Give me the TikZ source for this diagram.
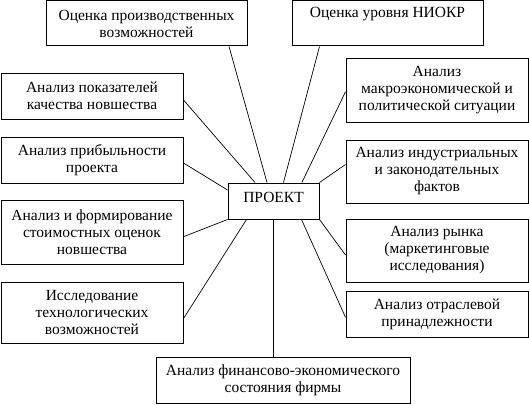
\documentclass[tikz,border=0pt]{standalone}
\usepackage{fontspec}
\setmainfont{Liberation Serif}
\usepackage{tikz}
\usetikzlibrary{positioning,calc}
\tikzset{%
  block/.style={draw=black,line width=1pt,fill=white,
    align=center,inner sep=0pt,font=\fontsize{15.5}{17}\selectfont},
  link/.style={draw=black,line width=0.7pt}
}
\begin{document}
\begin{tikzpicture}[x=1pt,y=-1pt]
  \useasboundingbox (0,0) rectangle (529,404);
  % center
  \node[block, minimum width=91pt, minimum height=36pt, text depth=8pt] (proekt) at (273.5,201) {ПРОЕКТ};
  % top row
  \node[block, minimum width=201pt, minimum height=45pt] (proizv) at (146.5,23.5) {Оценка производственных\\возможностей};
  \node[block, minimum width=191pt, minimum height=45pt] (niokr) at (387.5,23.5) {Оценка уровня НИОКР\\ \strut};
  % right column
  \node[block, minimum width=182pt, minimum height=64pt] (makro) at (437,90) {Анализ\\макроэкономической и\\политической ситуации};
  \node[block, minimum width=182pt, minimum height=63pt] (indust) at (437,171.5) {Анализ индустриальных\\и законодательных\\фактов};
  \node[block, minimum width=182pt, minimum height=63pt] (rynok) at (437,250.5) {Анализ рынка\\(маркетинговые\\исследования)};
  \node[block, minimum width=182pt, minimum height=46pt] (otrasl) at (437,314) {Анализ отраслевой\\принадлежности};
  % left column
  \node[block, minimum width=182pt, minimum height=46pt] (kachestvo) at (92,96) {Анализ показателей\\качества новшества};
  \node[block, minimum width=182pt, minimum height=46pt] (pribyl) at (92,160) {Анализ прибыльности\\проекта};
  \node[block, minimum width=182pt, minimum height=64pt] (stoim) at (92,232) {Анализ и формирование\\стоимостных оценок\\новшества};
  \node[block, minimum width=182pt, minimum height=61pt] (tekhnol) at (92,312.5) {Исследование\\технологических\\возможностей};
  % bottom
  \node[block, minimum width=254pt, minimum height=46pt] (finans) at (283,380) {Анализ финансово-экономического\\состояния фирмы};
  % connectors
  \draw[link] ([xshift=82.5pt]proizv.south) -- ([xshift=-6.5pt]proekt.north);
  \draw[link] ([xshift=28pt]niokr.south west) -- ([xshift=10pt]proekt.north);
  \draw[link] ([yshift=-1.7pt]makro.west) -- ([xshift=-17.6pt]proekt.north east);
  \draw[link] ([yshift=7pt]indust.west) -- (proekt.north east);
  \draw[link] ([yshift=-4.5pt]rynok.west) -- (proekt.south east);
  \draw[link] ([yshift=-3.3pt]otrasl.west) -- ([xshift=28pt]proekt.south);
  \draw[link] (proekt.south) -- (proekt.south |- finans.north);
  \draw[link] ([yshift=-4pt]kachestvo.east) -- ([xshift=-18.5pt]proekt.north);
  \draw[link] ([yshift=-3pt]pribyl.east) -- ([yshift=11pt]proekt.west);
  \draw[link] ([yshift=-4.7pt]stoim.east) -- (proekt.south west);
  \draw[link] ([yshift=-6pt]tekhnol.east) -- ([xshift=-27pt]proekt.south);
\end{tikzpicture}
\end{document}
